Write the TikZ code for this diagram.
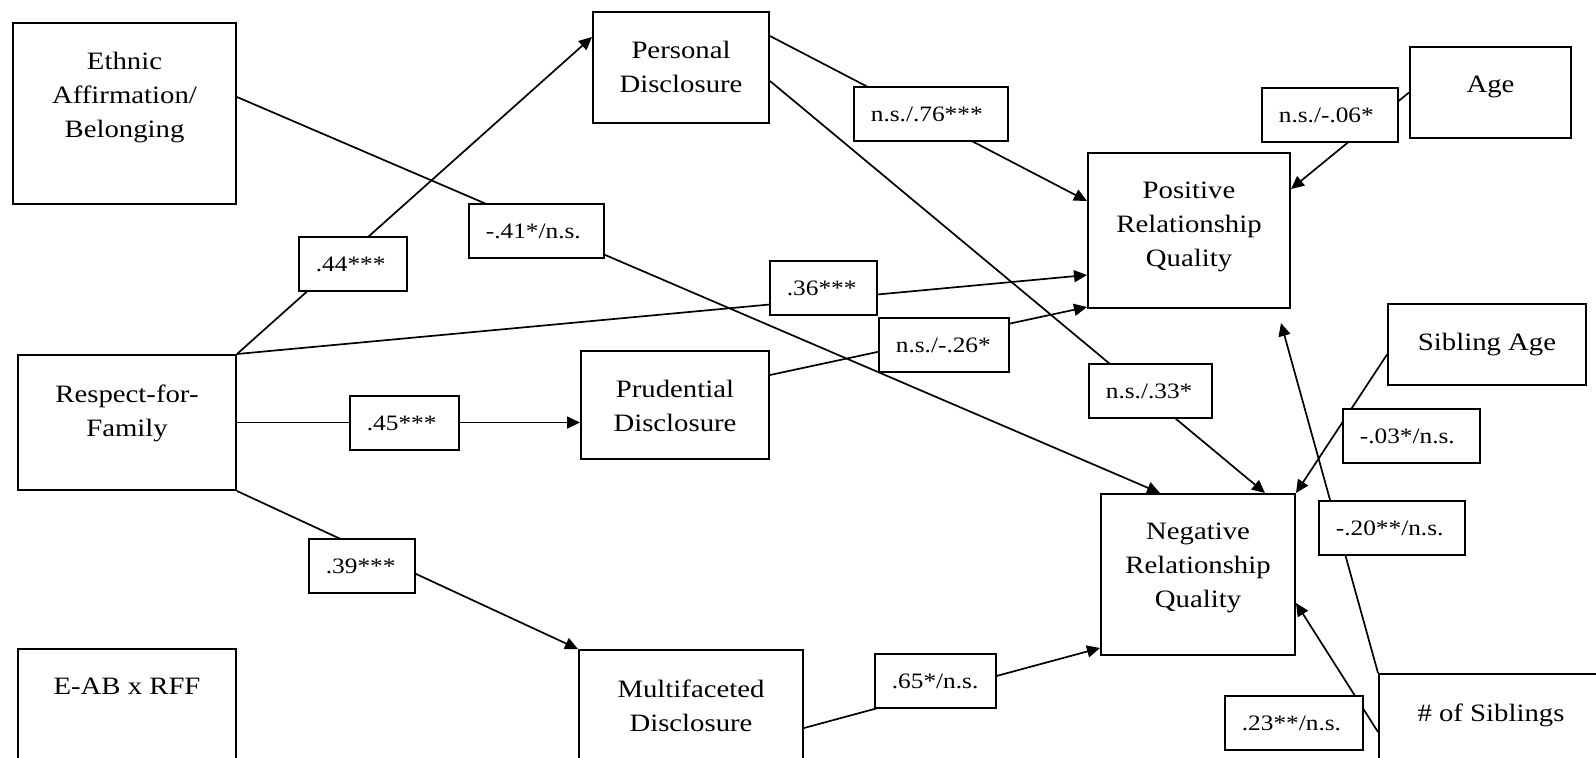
\documentclass[tikz,border=0pt]{standalone}
\usepackage{fontspec}
\setmainfont{Liberation Serif}[FakeStretch=1.15]
\usepackage{tikz}
\usetikzlibrary{calc,arrows.meta}
\newcommand\bxfont{\fontsize{12.5}{17}\selectfont}
\newcommand\cffont{\fontsize{11}{13}\selectfont}

\begin{document}
\begin{tikzpicture}[x=0.5pt,y=-0.5pt,
        box/.style 2 args={draw,line width=1pt,minimum width=#1*0.5pt,minimum height=#2*0.5pt,inner sep=0pt},
        txt/.style={anchor=north,align=center,inner sep=0pt,yshift=-15pt,font=\bxfont},
        coef/.style={draw,fill=white,line width=0.9pt,anchor=west,align=left,text width=#1pt,
            inner xsep=8.5pt,inner ysep=0pt,minimum height=27pt,font=\cffont},
        arr/.style={line width=0.85pt,-{Triangle[length=6.5pt,width=6pt]}}]
                \useasboundingbox (0,0) rectangle (1596,757);
                \fill[white] (0,0) rectangle (1596,757);
                \clip (0,0) rectangle (1596,757);
                % Variables
                \node[box={223}{181},label={[txt]north:Ethnic\\Affirmation/\\Belonging}] (eth) at (124.5,113.5) {};
                \node[box={218}{135},label={[txt]north:Respect-for-\\Family}] (resp) at (127,422.5) {};
                \node[box={218}{114},label={[txt]north:E-AB x RFF}] (eab) at (127,706) {};
                \node[box={176}{111},label={[txt]north:Personal\\Disclosure}] (pers) at (681,67.5) {};
                \node[box={188}{108},label={[txt]north:Prudential\\Disclosure}] (prud) at (675,405) {};
                \node[box={224}{110},label={[txt]north:Multifaceted\\Disclosure}] (multi) at (691,705) {};
                \node[box={202}{155},label={[txt]north:Positive\\Relationship\\Quality}] (pos) at (1189,230.5) {};
                \node[box={194}{161},label={[txt]north:Negative\\Relationship\\Quality}] (neg) at (1198,574.5) {};
                \node[box={161}{91},label={[txt]north:Age}] (age) at (1490.5,92.5) {};
                \node[box={198}{81},label={[txt]north:Sibling Age}] (sibage) at (1487,344.5) {};
                \node[box={224}{90},label={[txt]north:\# of Siblings}] (nsib) at (1491,719) {};
                % Paths
                \draw[arr](resp.north east)--($(pers.north west)+(0,26)$);
                \draw[arr]($(eth.east)+(0,-16.5)$)--($(neg.north)+(-38,0)$);
                \draw[arr](resp.north east)--($(pos.west)+(0,44.5)$);
                \draw[arr](resp.east)--(resp.east -| prud.west);
                \draw[arr](resp.south east)--(multi.north west);
                \draw[arr]($(pers.north east)+(0,25)$)--($(pos.north west)+(0,49)$);
                \draw[arr]($(pers.north east)+(0,70)$)--($(neg.north east)+(-31,0)$);
                \draw[arr]($(prud.north east)+(0,25)$)--($(pos.south west)+(0,-2)$);
                \draw[arr]($(multi.south east)+(0,-33)$)--($(neg.south west)+(0,-8)$);
                \draw[arr](age.west)--($(pos.north east)+(0,37)$);
                \draw[arr]($(sibage.west)+(0,10)$)--(neg.north east);
                \draw[arr](nsib.north west)--($(pos.south east)+(-10,14)$);
                \draw[arr]($(nsib.north west)+(0,59)$)--($(neg.east)+(0,28.5)$);
                % Coefficients
                \node[coef=37] (c44) at (298,264) {.44***};
                \node[coef=50.5] (c41) at (468,231) {-.41*/n.s.};
                \node[coef=36.5] (c36) at (769,288) {.36***};
                \node[coef=37.5] (c45) at (349,423) {.45***};
                \node[coef=36] (c39) at (308,566) {.39***};
                \node[coef=60] (c76) at (853,114) {n.s./.76***};
                \node[coef=48] (c26) at (878,345) {n.s./-.26*};
                \node[coef=44.5] (c33) at (1088,391) {n.s./.33*};
                \node[coef=51] (c06) at (1261,115) {n.s./-.06*};
                \node[coef=51.5] (c03) at (1342,436) {-.03*/n.s.};
                \node[coef=56] (c20) at (1318,528) {-.20**/n.s.};
                \node[coef=43.5] (c65) at (874,681) {.65*/n.s.};
                \node[coef=52] (c23) at (1224,723) {.23**/n.s.};
\end{tikzpicture}
\end{document}
